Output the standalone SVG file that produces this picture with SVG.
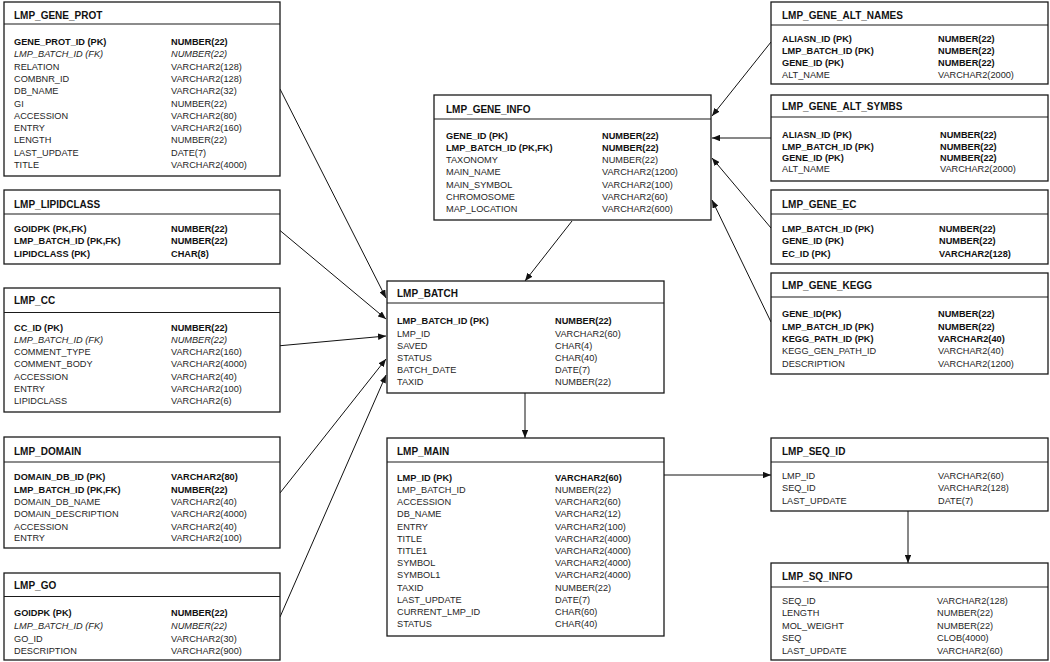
<svg xmlns="http://www.w3.org/2000/svg" width="1050" height="662" viewBox="0 0 1050 662">
<style>
.box{fill:#fff;stroke:#1a1a1a;stroke-width:1.3}
.hl{stroke:#1a1a1a;stroke-width:1.2}
text{font-family:"Liberation Sans",Arial,sans-serif;font-size:9.2px;fill:#262626}
.t{font-size:10px;font-weight:bold;fill:#111}
.b{font-weight:bold;fill:#111}
.i{font-style:italic}
.c{stroke:#111;stroke-width:1;fill:none;marker-end:url(#ah)}
</style>
<defs>
<marker id="ah" viewBox="0 0 10 8" refX="10" refY="4" markerWidth="8" markerHeight="6.4" markerUnits="userSpaceOnUse" orient="auto">
<path d="M0,0 L10,4 L0,8 z" fill="#111"/>
</marker>
</defs>
<rect width="1050" height="662" fill="#fff"/>

<g id="connectors">
<line class="c" x1="280" y1="89" x2="386" y2="298"/>
<line class="c" x1="277" y1="228" x2="386" y2="319"/>
<line class="c" x1="277" y1="346" x2="386" y2="336"/>
<line class="c" x1="280" y1="493" x2="386" y2="359"/>
<line class="c" x1="280" y1="617" x2="386" y2="375"/>
<line class="c" x1="572" y1="221" x2="525" y2="281"/>
<line class="c" x1="525" y1="393" x2="525" y2="438"/>
<line class="c" x1="664" y1="475" x2="771" y2="475"/>
<line class="c" x1="908" y1="511" x2="908" y2="563"/>
<line class="c" x1="771" y1="42" x2="712" y2="116"/>
<line class="c" x1="771" y1="138" x2="712" y2="138"/>
<line class="c" x1="771" y1="228" x2="712" y2="158"/>
<line class="c" x1="771" y1="322" x2="712" y2="200"/>
</g>

<g id="LMP_GENE_PROT">
<rect class="box" x="4" y="2" width="276" height="174"/>
<line class="hl" x1="4" y1="24" x2="280" y2="24"/>
<text class="t" x="14" y="19">LMP_GENE_PROT</text>
<text class="b" x="14" y="44.5">GENE_PROT_ID (PK)</text><text class="b" x="171" y="44.5">NUMBER(22)</text>
<text class="i" x="14" y="57">LMP_BATCH_ID (FK)</text><text class="i" x="171" y="57">NUMBER(22)</text>
<text x="14" y="69.5">RELATION</text><text x="171" y="69.5">VARCHAR2(128)</text>
<text x="14" y="81.5">COMBNR_ID</text><text x="171" y="81.5">VARCHAR2(128)</text>
<text x="14" y="94">DB_NAME</text><text x="171" y="94">VARCHAR2(32)</text>
<text x="14" y="106.5">GI</text><text x="171" y="106.5">NUMBER(22)</text>
<text x="14" y="118.5">ACCESSION</text><text x="171" y="118.5">VARCHAR2(80)</text>
<text x="14" y="131">ENTRY</text><text x="171" y="131">VARCHAR2(160)</text>
<text x="14" y="143">LENGTH</text><text x="171" y="143">NUMBER(22)</text>
<text x="14" y="155.5">LAST_UPDATE</text><text x="171" y="155.5">DATE(7)</text>
<text x="14" y="167.5">TITLE</text><text x="171" y="167.5">VARCHAR2(4000)</text>
</g>

<g id="LMP_LIPIDCLASS">
<rect class="box" x="4" y="190" width="276" height="74"/>
<line class="hl" x1="4" y1="214" x2="280" y2="214"/>
<text class="t" x="14" y="207.7">LMP_LIPIDCLASS</text>
<text class="b" x="14" y="231.5">GOIDPK (PK,FK)</text><text class="b" x="171" y="231.5">NUMBER(22)</text>
<text class="b" x="14" y="243.5">LMP_BATCH_ID (PK,FK)</text><text class="b" x="171" y="243.5">NUMBER(22)</text>
<text class="b" x="14" y="256.5">LIPIDCLASS (PK)</text><text class="b" x="171" y="256.5">CHAR(8)</text>
</g>

<g id="LMP_CC">
<rect class="box" x="4" y="288" width="276" height="124"/>
<line class="hl" x1="4" y1="312.5" x2="280" y2="312.5"/>
<text class="t" x="14" y="303.7">LMP_CC</text>
<text class="b" x="14" y="330.5">CC_ID (PK)</text><text class="b" x="171" y="330.5">NUMBER(22)</text>
<text class="i" x="14" y="342.5">LMP_BATCH_ID (FK)</text><text class="i" x="171" y="342.5">NUMBER(22)</text>
<text x="14" y="355">COMMENT_TYPE</text><text x="171" y="355">VARCHAR2(160)</text>
<text x="14" y="367">COMMENT_BODY</text><text x="171" y="367">VARCHAR2(4000)</text>
<text x="14" y="379.5">ACCESSION</text><text x="171" y="379.5">VARCHAR2(40)</text>
<text x="14" y="391.5">ENTRY</text><text x="171" y="391.5">VARCHAR2(100)</text>
<text x="14" y="403.5">LIPIDCLASS</text><text x="171" y="403.5">VARCHAR2(6)</text>
</g>

<g id="LMP_DOMAIN">
<rect class="box" x="4" y="437" width="276" height="111"/>
<line class="hl" x1="4" y1="462" x2="280" y2="462"/>
<text class="t" x="14" y="455">LMP_DOMAIN</text>
<text class="b" x="14" y="480">DOMAIN_DB_ID (PK)</text><text class="b" x="171" y="480">VARCHAR2(80)</text>
<text class="b" x="14" y="492.5">LMP_BATCH_ID (PK,FK)</text><text class="b" x="171" y="492.5">NUMBER(22)</text>
<text x="14" y="505">DOMAIN_DB_NAME</text><text x="171" y="505">VARCHAR2(40)</text>
<text x="14" y="516.5">DOMAIN_DESCRIPTION</text><text x="171" y="516.5">VARCHAR2(4000)</text>
<text x="14" y="529.5">ACCESSION</text><text x="171" y="529.5">VARCHAR2(40)</text>
<text x="14" y="541">ENTRY</text><text x="171" y="541">VARCHAR2(100)</text>
</g>

<g id="LMP_GO">
<rect class="box" x="4" y="573" width="276" height="87"/>
<line class="hl" x1="4" y1="596.5" x2="280" y2="596.5"/>
<text class="t" x="14" y="589">LMP_GO</text>
<text class="b" x="14" y="616">GOIDPK (PK)</text><text class="b" x="171" y="616">NUMBER(22)</text>
<text class="i" x="14" y="629">LMP_BATCH_ID (FK)</text><text class="i" x="171" y="629">NUMBER(22)</text>
<text x="14" y="641.5">GO_ID</text><text x="171" y="641.5">VARCHAR2(30)</text>
<text x="14" y="653.5">DESCRIPTION</text><text x="171" y="653.5">VARCHAR2(900)</text>
</g>

<g id="LMP_GENE_INFO">
<rect class="box" x="434" y="95" width="277" height="125"/>
<line class="hl" x1="434" y1="119" x2="711" y2="119"/>
<text class="t" x="446" y="112.7">LMP_GENE_INFO</text>
<text class="b" x="446" y="139">GENE_ID (PK)</text><text class="b" x="602" y="139">NUMBER(22)</text>
<text class="b" x="446" y="151">LMP_BATCH_ID (PK,FK)</text><text class="b" x="602" y="151">NUMBER(22)</text>
<text x="446" y="163">TAXONOMY</text><text x="602" y="163">NUMBER(22)</text>
<text x="446" y="175">MAIN_NAME</text><text x="602" y="175">VARCHAR2(1200)</text>
<text x="446" y="187.5">MAIN_SYMBOL</text><text x="602" y="187.5">VARCHAR2(100)</text>
<text x="446" y="199.5">CHROMOSOME</text><text x="602" y="199.5">VARCHAR2(60)</text>
<text x="446" y="212">MAP_LOCATION</text><text x="602" y="212">VARCHAR2(600)</text>
</g>

<g id="LMP_BATCH">
<rect class="box" x="387" y="281" width="277" height="112"/>
<line class="hl" x1="387" y1="303" x2="664" y2="303"/>
<text class="t" x="397" y="297">LMP_BATCH</text>
<text class="b" x="397" y="323.5">LMP_BATCH_ID (PK)</text><text class="b" x="555" y="323.5">NUMBER(22)</text>
<text x="397" y="337">LMP_ID</text><text x="555" y="337">VARCHAR2(60)</text>
<text x="397" y="349">SAVED</text><text x="555" y="349">CHAR(4)</text>
<text x="397" y="360.5">STATUS</text><text x="555" y="360.5">CHAR(40)</text>
<text x="397" y="373">BATCH_DATE</text><text x="555" y="373">DATE(7)</text>
<text x="397" y="385">TAXID</text><text x="555" y="385">NUMBER(22)</text>
</g>

<g id="LMP_MAIN">
<rect class="box" x="387" y="438" width="277" height="198"/>
<line class="hl" x1="387" y1="462" x2="664" y2="462"/>
<text class="t" x="397" y="455">LMP_MAIN</text>
<text class="b" x="397" y="480.5">LMP_ID (PK)</text><text class="b" x="555" y="480.5">VARCHAR2(60)</text>
<text x="397" y="493">LMP_BATCH_ID</text><text x="555" y="493">NUMBER(22)</text>
<text x="397" y="505">ACCESSION</text><text x="555" y="505">VARCHAR2(60)</text>
<text x="397" y="517">DB_NAME</text><text x="555" y="517">VARCHAR2(12)</text>
<text x="397" y="529.5">ENTRY</text><text x="555" y="529.5">VARCHAR2(100)</text>
<text x="397" y="541.5">TITLE</text><text x="555" y="541.5">VARCHAR2(4000)</text>
<text x="397" y="553.5">TITLE1</text><text x="555" y="553.5">VARCHAR2(4000)</text>
<text x="397" y="566">SYMBOL</text><text x="555" y="566">VARCHAR2(4000)</text>
<text x="397" y="578">SYMBOL1</text><text x="555" y="578">VARCHAR2(4000)</text>
<text x="397" y="590.5">TAXID</text><text x="555" y="590.5">NUMBER(22)</text>
<text x="397" y="602.5">LAST_UPDATE</text><text x="555" y="602.5">DATE(7)</text>
<text x="397" y="614.5">CURRENT_LMP_ID</text><text x="555" y="614.5">CHAR(60)</text>
<text x="397" y="626.5">STATUS</text><text x="555" y="626.5">CHAR(40)</text>
</g>

<g id="LMP_GENE_ALT_NAMES">
<rect class="box" x="771" y="2" width="277" height="82"/>
<line class="hl" x1="771" y1="25" x2="1048" y2="25"/>
<text class="t" x="782" y="18.7">LMP_GENE_ALT_NAMES</text>
<text class="b" x="782" y="42">ALIASN_ID (PK)</text><text class="b" x="938" y="42">NUMBER(22)</text>
<text class="b" x="782" y="54">LMP_BATCH_ID (PK)</text><text class="b" x="938" y="54">NUMBER(22)</text>
<text class="b" x="782" y="66">GENE_ID (PK)</text><text class="b" x="938" y="66">NUMBER(22)</text>
<text x="782" y="78">ALT_NAME</text><text x="938" y="78">VARCHAR2(2000)</text>
</g>

<g id="LMP_GENE_ALT_SYMBS">
<rect class="box" x="771" y="95" width="277" height="86"/>
<line class="hl" x1="771" y1="117" x2="1048" y2="117"/>
<text class="t" x="782" y="109.7">LMP_GENE_ALT_SYMBS</text>
<text class="b" x="782" y="137.5">ALIASN_ID (PK)</text><text class="b" x="940" y="137.5">NUMBER(22)</text>
<text class="b" x="782" y="149.5">LMP_BATCH_ID (PK)</text><text class="b" x="940" y="149.5">NUMBER(22)</text>
<text class="b" x="782" y="160.5">GENE_ID (PK)</text><text class="b" x="940" y="160.5">NUMBER(22)</text>
<text x="782" y="172">ALT_NAME</text><text x="940" y="172">VARCHAR2(2000)</text>
</g>

<g id="LMP_GENE_EC">
<rect class="box" x="771" y="190" width="277" height="74"/>
<line class="hl" x1="771" y1="214" x2="1048" y2="214"/>
<text class="t" x="782" y="207.7">LMP_GENE_EC</text>
<text class="b" x="782" y="232">LMP_BATCH_ID (PK)</text><text class="b" x="939" y="232">NUMBER(22)</text>
<text class="b" x="782" y="244">GENE_ID (PK)</text><text class="b" x="939" y="244">NUMBER(22)</text>
<text class="b" x="782" y="257">EC_ID (PK)</text><text class="b" x="939" y="257">VARCHAR2(128)</text>
</g>

<g id="LMP_GENE_KEGG">
<rect class="box" x="771" y="273" width="277" height="101"/>
<line class="hl" x1="771" y1="297" x2="1048" y2="297"/>
<text class="t" x="782" y="288.7">LMP_GENE_KEGG</text>
<text class="b" x="782" y="316.5">GENE_ID(PK)</text><text class="b" x="938" y="316.5">NUMBER(22)</text>
<text class="b" x="782" y="329.5">LMP_BATCH_ID (PK)</text><text class="b" x="938" y="329.5">NUMBER(22)</text>
<text class="b" x="782" y="341.5">KEGG_PATH_ID (PK)</text><text class="b" x="938" y="341.5">VARCHAR2(40)</text>
<text x="782" y="353.5">KEGG_GEN_PATH_ID</text><text x="938" y="353.5">VARCHAR2(40)</text>
<text x="782" y="366.5">DESCRIPTION</text><text x="938" y="366.5">VARCHAR2(1200)</text>
</g>

<g id="LMP_SEQ_ID">
<rect class="box" x="771" y="438" width="277" height="73"/>
<line class="hl" x1="771" y1="462" x2="1048" y2="462"/>
<text class="t" x="782" y="454.7">LMP_SEQ_ID</text>
<text x="782" y="479">LMP_ID</text><text x="938" y="479">VARCHAR2(60)</text>
<text x="782" y="491">SEQ_ID</text><text x="938" y="491">VARCHAR2(128)</text>
<text x="782" y="504">LAST_UPDATE</text><text x="938" y="504">DATE(7)</text>
</g>

<g id="LMP_SQ_INFO">
<rect class="box" x="771" y="563" width="277" height="97"/>
<line class="hl" x1="771" y1="587" x2="1048" y2="587"/>
<text class="t" x="782" y="579.7">LMP_SQ_INFO</text>
<text x="782" y="604">SEQ_ID</text><text x="937" y="604">VARCHAR2(128)</text>
<text x="782" y="616">LENGTH</text><text x="937" y="616">NUMBER(22)</text>
<text x="782" y="628.5">MOL_WEIGHT</text><text x="937" y="628.5">NUMBER(22)</text>
<text x="782" y="640.5">SEQ</text><text x="937" y="640.5">CLOB(4000)</text>
<text x="782" y="653.5">LAST_UPDATE</text><text x="937" y="653.5">VARCHAR2(60)</text>
</g>
</svg>
